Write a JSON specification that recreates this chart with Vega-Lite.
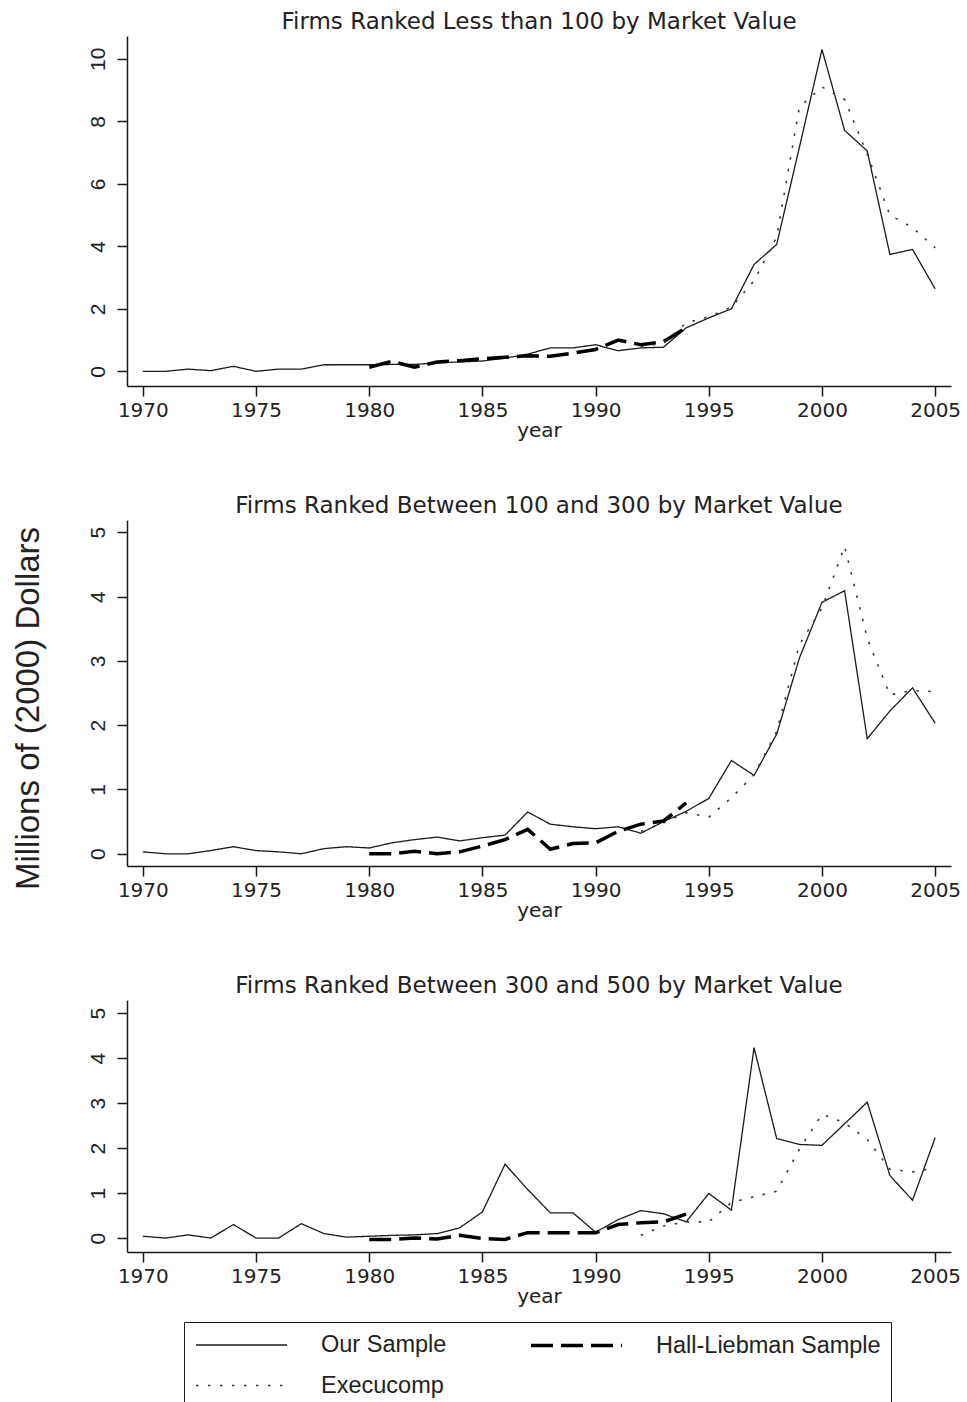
{
  "$schema": "https://vega.github.io/schema/vega-lite/v6.json",
  "background": "white",
  "padding": {"left": 12, "top": 11, "right": 0, "bottom": 0},
  "config": {
    "view": {"stroke": null},
    "font": "Liberation Sans",
    "axis": {"grid": false, "domainColor": "#1a1a1a", "domainWidth": 1.5, "tickColor": "#1a1a1a", "tickWidth": 1.5, "tickSize": 10, "labelColor": "#222222", "titleColor": "#222222", "titleFontWeight": "normal"},
    "axisX": {"labelFont": "DejaVu Sans", "labelFontSize": 20, "labelPadding": 4, "titleFont": "DejaVu Sans", "titleFontSize": 20, "titlePadding": 0},
    "axisY": {"labelFont": "Liberation Sans", "labelFontSize": 21, "labelAngle": -90, "labelPadding": 9, "titleFont": "Liberation Sans", "titleFontSize": 33, "titlePadding": 42},
    "title": {"font": "DejaVu Sans", "fontSize": 23, "fontWeight": "normal", "color": "#222222", "anchor": "middle", "offset": 2},
    "concat": {"spacing": 55},
    "legend": {"title": null, "columns": 2, "direction": "horizontal", "symbolType": "M-4,0H4", "symbolSize": 518, "symbolOffset": 34, "labelOffset": 66, "labelLimit": 0, "labelFont": "Liberation Sans", "labelFontSize": 23.5, "labelColor": "#222222", "strokeColor": "#1a1a1a", "padding": 10, "columnPadding": 76, "rowPadding": 16, "orient": "none", "legendX": 57, "legendY": 1286}
  },
  "datasets": {
    "p1": [
      {"series": "Our Sample", "year": 1970, "value": 0}, {"series": "Our Sample", "year": 1971, "value": 0}, {"series": "Our Sample", "year": 1972, "value": 0.07}, {"series": "Our Sample", "year": 1973, "value": 0.02}, {"series": "Our Sample", "year": 1974, "value": 0.16}, {"series": "Our Sample", "year": 1975, "value": 0}, {"series": "Our Sample", "year": 1976, "value": 0.07}, {"series": "Our Sample", "year": 1977, "value": 0.07}, {"series": "Our Sample", "year": 1978, "value": 0.21}, {"series": "Our Sample", "year": 1979, "value": 0.21}, {"series": "Our Sample", "year": 1980, "value": 0.21}, {"series": "Our Sample", "year": 1981, "value": 0.22}, {"series": "Our Sample", "year": 1982, "value": 0.22}, {"series": "Our Sample", "year": 1983, "value": 0.27}, {"series": "Our Sample", "year": 1984, "value": 0.3}, {"series": "Our Sample", "year": 1985, "value": 0.33}, {"series": "Our Sample", "year": 1986, "value": 0.42}, {"series": "Our Sample", "year": 1987, "value": 0.55}, {"series": "Our Sample", "year": 1988, "value": 0.75}, {"series": "Our Sample", "year": 1989, "value": 0.75}, {"series": "Our Sample", "year": 1990, "value": 0.85}, {"series": "Our Sample", "year": 1991, "value": 0.66}, {"series": "Our Sample", "year": 1992, "value": 0.75}, {"series": "Our Sample", "year": 1993, "value": 0.77}, {"series": "Our Sample", "year": 1994, "value": 1.39}, {"series": "Our Sample", "year": 1995, "value": 1.71}, {"series": "Our Sample", "year": 1996, "value": 2.0}, {"series": "Our Sample", "year": 1997, "value": 3.42}, {"series": "Our Sample", "year": 1998, "value": 4.06}, {"series": "Our Sample", "year": 1999, "value": 7.16}, {"series": "Our Sample", "year": 2000, "value": 10.3}, {"series": "Our Sample", "year": 2001, "value": 7.71}, {"series": "Our Sample", "year": 2002, "value": 7.05}, {"series": "Our Sample", "year": 2003, "value": 3.74}, {"series": "Our Sample", "year": 2004, "value": 3.9}, {"series": "Our Sample", "year": 2005, "value": 2.64},
      {"series": "Hall-Liebman Sample", "year": 1980, "value": 0.13}, {"series": "Hall-Liebman Sample", "year": 1981, "value": 0.32}, {"series": "Hall-Liebman Sample", "year": 1982, "value": 0.13}, {"series": "Hall-Liebman Sample", "year": 1983, "value": 0.3}, {"series": "Hall-Liebman Sample", "year": 1984, "value": 0.34}, {"series": "Hall-Liebman Sample", "year": 1985, "value": 0.4}, {"series": "Hall-Liebman Sample", "year": 1986, "value": 0.45}, {"series": "Hall-Liebman Sample", "year": 1987, "value": 0.5}, {"series": "Hall-Liebman Sample", "year": 1988, "value": 0.48}, {"series": "Hall-Liebman Sample", "year": 1989, "value": 0.58}, {"series": "Hall-Liebman Sample", "year": 1990, "value": 0.7}, {"series": "Hall-Liebman Sample", "year": 1991, "value": 1.0}, {"series": "Hall-Liebman Sample", "year": 1992, "value": 0.85}, {"series": "Hall-Liebman Sample", "year": 1993, "value": 0.95}, {"series": "Hall-Liebman Sample", "year": 1994, "value": 1.39},
      {"series": "Execucomp", "year": 1992, "value": 0.78}, {"series": "Execucomp", "year": 1993, "value": 0.9}, {"series": "Execucomp", "year": 1994, "value": 1.55}, {"series": "Execucomp", "year": 1995, "value": 1.75}, {"series": "Execucomp", "year": 1996, "value": 2.05}, {"series": "Execucomp", "year": 1997, "value": 2.9}, {"series": "Execucomp", "year": 1998, "value": 4.3}, {"series": "Execucomp", "year": 1999, "value": 8.45}, {"series": "Execucomp", "year": 2000, "value": 9.1}, {"series": "Execucomp", "year": 2001, "value": 8.7}, {"series": "Execucomp", "year": 2002, "value": 6.95}, {"series": "Execucomp", "year": 2003, "value": 5.0}, {"series": "Execucomp", "year": 2004, "value": 4.6}, {"series": "Execucomp", "year": 2005, "value": 3.95}
    ],
    "p2": [
      {"series": "Our Sample", "year": 1970, "value": 0.03}, {"series": "Our Sample", "year": 1971, "value": 0}, {"series": "Our Sample", "year": 1972, "value": 0}, {"series": "Our Sample", "year": 1973, "value": 0.05}, {"series": "Our Sample", "year": 1974, "value": 0.11}, {"series": "Our Sample", "year": 1975, "value": 0.05}, {"series": "Our Sample", "year": 1976, "value": 0.03}, {"series": "Our Sample", "year": 1977, "value": 0}, {"series": "Our Sample", "year": 1978, "value": 0.08}, {"series": "Our Sample", "year": 1979, "value": 0.11}, {"series": "Our Sample", "year": 1980, "value": 0.09}, {"series": "Our Sample", "year": 1981, "value": 0.17}, {"series": "Our Sample", "year": 1982, "value": 0.22}, {"series": "Our Sample", "year": 1983, "value": 0.26}, {"series": "Our Sample", "year": 1984, "value": 0.2}, {"series": "Our Sample", "year": 1985, "value": 0.25}, {"series": "Our Sample", "year": 1986, "value": 0.29}, {"series": "Our Sample", "year": 1987, "value": 0.65}, {"series": "Our Sample", "year": 1988, "value": 0.46}, {"series": "Our Sample", "year": 1989, "value": 0.42}, {"series": "Our Sample", "year": 1990, "value": 0.39}, {"series": "Our Sample", "year": 1991, "value": 0.42}, {"series": "Our Sample", "year": 1992, "value": 0.32}, {"series": "Our Sample", "year": 1993, "value": 0.5}, {"series": "Our Sample", "year": 1994, "value": 0.66}, {"series": "Our Sample", "year": 1995, "value": 0.86}, {"series": "Our Sample", "year": 1996, "value": 1.45}, {"series": "Our Sample", "year": 1997, "value": 1.22}, {"series": "Our Sample", "year": 1998, "value": 1.86}, {"series": "Our Sample", "year": 1999, "value": 3.04}, {"series": "Our Sample", "year": 2000, "value": 3.91}, {"series": "Our Sample", "year": 2001, "value": 4.09}, {"series": "Our Sample", "year": 2002, "value": 1.79}, {"series": "Our Sample", "year": 2003, "value": 2.22}, {"series": "Our Sample", "year": 2004, "value": 2.58}, {"series": "Our Sample", "year": 2005, "value": 2.03},
      {"series": "Hall-Liebman Sample", "year": 1980, "value": 0}, {"series": "Hall-Liebman Sample", "year": 1981, "value": 0}, {"series": "Hall-Liebman Sample", "year": 1982, "value": 0.04}, {"series": "Hall-Liebman Sample", "year": 1983, "value": 0}, {"series": "Hall-Liebman Sample", "year": 1984, "value": 0.03}, {"series": "Hall-Liebman Sample", "year": 1985, "value": 0.12}, {"series": "Hall-Liebman Sample", "year": 1986, "value": 0.22}, {"series": "Hall-Liebman Sample", "year": 1987, "value": 0.38}, {"series": "Hall-Liebman Sample", "year": 1988, "value": 0.07}, {"series": "Hall-Liebman Sample", "year": 1989, "value": 0.16}, {"series": "Hall-Liebman Sample", "year": 1990, "value": 0.17}, {"series": "Hall-Liebman Sample", "year": 1991, "value": 0.35}, {"series": "Hall-Liebman Sample", "year": 1992, "value": 0.46}, {"series": "Hall-Liebman Sample", "year": 1993, "value": 0.51}, {"series": "Hall-Liebman Sample", "year": 1994, "value": 0.79},
      {"series": "Execucomp", "year": 1992, "value": 0.35}, {"series": "Execucomp", "year": 1993, "value": 0.48}, {"series": "Execucomp", "year": 1994, "value": 0.64}, {"series": "Execucomp", "year": 1995, "value": 0.57}, {"series": "Execucomp", "year": 1996, "value": 0.87}, {"series": "Execucomp", "year": 1997, "value": 1.23}, {"series": "Execucomp", "year": 1998, "value": 1.9}, {"series": "Execucomp", "year": 1999, "value": 3.25}, {"series": "Execucomp", "year": 2000, "value": 3.82}, {"series": "Execucomp", "year": 2001, "value": 4.78}, {"series": "Execucomp", "year": 2002, "value": 3.35}, {"series": "Execucomp", "year": 2003, "value": 2.47}, {"series": "Execucomp", "year": 2004, "value": 2.54}, {"series": "Execucomp", "year": 2005, "value": 2.52}
    ],
    "p3": [
      {"series": "Our Sample", "year": 1970, "value": 0.04}, {"series": "Our Sample", "year": 1971, "value": 0}, {"series": "Our Sample", "year": 1972, "value": 0.07}, {"series": "Our Sample", "year": 1973, "value": 0}, {"series": "Our Sample", "year": 1974, "value": 0.3}, {"series": "Our Sample", "year": 1975, "value": 0}, {"series": "Our Sample", "year": 1976, "value": 0}, {"series": "Our Sample", "year": 1977, "value": 0.32}, {"series": "Our Sample", "year": 1978, "value": 0.1}, {"series": "Our Sample", "year": 1979, "value": 0.02}, {"series": "Our Sample", "year": 1980, "value": 0.04}, {"series": "Our Sample", "year": 1981, "value": 0.06}, {"series": "Our Sample", "year": 1982, "value": 0.07}, {"series": "Our Sample", "year": 1983, "value": 0.1}, {"series": "Our Sample", "year": 1984, "value": 0.23}, {"series": "Our Sample", "year": 1985, "value": 0.58}, {"series": "Our Sample", "year": 1986, "value": 1.64}, {"series": "Our Sample", "year": 1987, "value": 1.08}, {"series": "Our Sample", "year": 1988, "value": 0.56}, {"series": "Our Sample", "year": 1989, "value": 0.56}, {"series": "Our Sample", "year": 1990, "value": 0.13}, {"series": "Our Sample", "year": 1991, "value": 0.41}, {"series": "Our Sample", "year": 1992, "value": 0.61}, {"series": "Our Sample", "year": 1993, "value": 0.54}, {"series": "Our Sample", "year": 1994, "value": 0.36}, {"series": "Our Sample", "year": 1995, "value": 0.99}, {"series": "Our Sample", "year": 1996, "value": 0.62}, {"series": "Our Sample", "year": 1997, "value": 4.23}, {"series": "Our Sample", "year": 1998, "value": 2.21}, {"series": "Our Sample", "year": 1999, "value": 2.08}, {"series": "Our Sample", "year": 2000, "value": 2.06}, {"series": "Our Sample", "year": 2001, "value": 2.54}, {"series": "Our Sample", "year": 2002, "value": 3.02}, {"series": "Our Sample", "year": 2003, "value": 1.39}, {"series": "Our Sample", "year": 2004, "value": 0.84}, {"series": "Our Sample", "year": 2005, "value": 2.23},
      {"series": "Hall-Liebman Sample", "year": 1980, "value": -0.03}, {"series": "Hall-Liebman Sample", "year": 1981, "value": -0.03}, {"series": "Hall-Liebman Sample", "year": 1982, "value": 0}, {"series": "Hall-Liebman Sample", "year": 1983, "value": -0.02}, {"series": "Hall-Liebman Sample", "year": 1984, "value": 0.06}, {"series": "Hall-Liebman Sample", "year": 1985, "value": -0.01}, {"series": "Hall-Liebman Sample", "year": 1986, "value": -0.03}, {"series": "Hall-Liebman Sample", "year": 1987, "value": 0.12}, {"series": "Hall-Liebman Sample", "year": 1988, "value": 0.12}, {"series": "Hall-Liebman Sample", "year": 1989, "value": 0.12}, {"series": "Hall-Liebman Sample", "year": 1990, "value": 0.12}, {"series": "Hall-Liebman Sample", "year": 1991, "value": 0.3}, {"series": "Hall-Liebman Sample", "year": 1992, "value": 0.34}, {"series": "Hall-Liebman Sample", "year": 1993, "value": 0.36}, {"series": "Hall-Liebman Sample", "year": 1994, "value": 0.53},
      {"series": "Execucomp", "year": 1992, "value": 0.06}, {"series": "Execucomp", "year": 1993, "value": 0.27}, {"series": "Execucomp", "year": 1994, "value": 0.36}, {"series": "Execucomp", "year": 1995, "value": 0.36}, {"series": "Execucomp", "year": 1996, "value": 0.79}, {"series": "Execucomp", "year": 1997, "value": 0.92}, {"series": "Execucomp", "year": 1998, "value": 1.04}, {"series": "Execucomp", "year": 1999, "value": 1.97}, {"series": "Execucomp", "year": 2000, "value": 2.75}, {"series": "Execucomp", "year": 2001, "value": 2.56}, {"series": "Execucomp", "year": 2002, "value": 2.19}, {"series": "Execucomp", "year": 2003, "value": 1.53}, {"series": "Execucomp", "year": 2004, "value": 1.47}, {"series": "Execucomp", "year": 2005, "value": 1.56}
    ]
  },
  "vconcat": [
    {
      "width": 824, "height": 350,
      "title": "Firms Ranked Less than 100 by Market Value",
      "data": {"name": "p1"},
      "mark": {"type": "line", "strokeCap": "butt"},
      "encoding": {
        "x": {"field": "year", "type": "quantitative", "scale": {"domain": [1969.3, 2005.7], "nice": false, "zero": false}, "axis": {"values": [1970, 1975, 1980, 1985, 1990, 1995, 2000, 2005], "format": "d", "title": "year"}},
        "y": {"field": "value", "type": "quantitative", "scale": {"domain": [-0.47, 10.73], "nice": false, "zero": false}, "axis": {"values": [0, 2, 4, 6, 8, 10], "title": null}},
        "color": {"field": "series", "type": "nominal", "scale": {"domain": ["Our Sample", "Hall-Liebman Sample", "Execucomp"], "range": ["#1a1a1a", "#000000", "#3a3a3a"]}},
        "strokeDash": {"field": "series", "type": "nominal", "scale": {"domain": ["Our Sample", "Hall-Liebman Sample", "Execucomp"], "range": [[1, 0], [22, 8], [2.5, 9.5]]}},
        "strokeWidth": {"field": "series", "type": "nominal", "scale": {"type": "ordinal", "domain": ["Our Sample", "Hall-Liebman Sample", "Execucomp"], "range": [1.3, 3.5, 1.6]}}
      }
    },
    {
      "width": 824, "height": 346,
      "title": "Firms Ranked Between 100 and 300 by Market Value",
      "data": {"name": "p2"},
      "mark": {"type": "line", "strokeCap": "butt"},
      "encoding": {
        "x": {"field": "year", "type": "quantitative", "scale": {"domain": [1969.3, 2005.7], "nice": false, "zero": false}, "axis": {"values": [1970, 1975, 1980, 1985, 1990, 1995, 2000, 2005], "format": "d", "title": "year"}},
        "y": {"field": "value", "type": "quantitative", "scale": {"domain": [-0.19, 5.19], "nice": false, "zero": false}, "axis": {"values": [0, 1, 2, 3, 4, 5], "title": "Millions of (2000) Dollars", "titleY": 188}},
        "color": {"field": "series", "type": "nominal", "scale": {"domain": ["Our Sample", "Hall-Liebman Sample", "Execucomp"], "range": ["#1a1a1a", "#000000", "#3a3a3a"]}},
        "strokeDash": {"field": "series", "type": "nominal", "scale": {"domain": ["Our Sample", "Hall-Liebman Sample", "Execucomp"], "range": [[1, 0], [22, 8], [2.5, 9.5]]}},
        "strokeWidth": {"field": "series", "type": "nominal", "scale": {"type": "ordinal", "domain": ["Our Sample", "Hall-Liebman Sample", "Execucomp"], "range": [1.3, 3.5, 1.6]}}
      }
    },
    {
      "width": 824, "height": 252,
      "title": "Firms Ranked Between 300 and 500 by Market Value",
      "data": {"name": "p3"},
      "mark": {"type": "line", "strokeCap": "butt"},
      "encoding": {
        "x": {"field": "year", "type": "quantitative", "scale": {"domain": [1969.3, 2005.7], "nice": false, "zero": false}, "axis": {"values": [1970, 1975, 1980, 1985, 1990, 1995, 2000, 2005], "format": "d", "title": "year"}},
        "y": {"field": "value", "type": "quantitative", "scale": {"domain": [-0.31, 5.29], "nice": false, "zero": false}, "axis": {"values": [0, 1, 2, 3, 4, 5], "title": null}},
        "color": {"field": "series", "type": "nominal", "scale": {"domain": ["Our Sample", "Hall-Liebman Sample", "Execucomp"], "range": ["#1a1a1a", "#000000", "#3a3a3a"]}},
        "strokeDash": {"field": "series", "type": "nominal", "scale": {"domain": ["Our Sample", "Hall-Liebman Sample", "Execucomp"], "range": [[1, 0], [22, 8], [2.5, 9.5]]}},
        "strokeWidth": {"field": "series", "type": "nominal", "scale": {"type": "ordinal", "domain": ["Our Sample", "Hall-Liebman Sample", "Execucomp"], "range": [1.3, 3.5, 1.6]}}
      }
    }
  ],
  "resolve": {"scale": {"color": "shared", "strokeDash": "shared", "strokeWidth": "shared"}, "legend": {"color": "shared", "strokeDash": "shared", "strokeWidth": "shared"}}
}
